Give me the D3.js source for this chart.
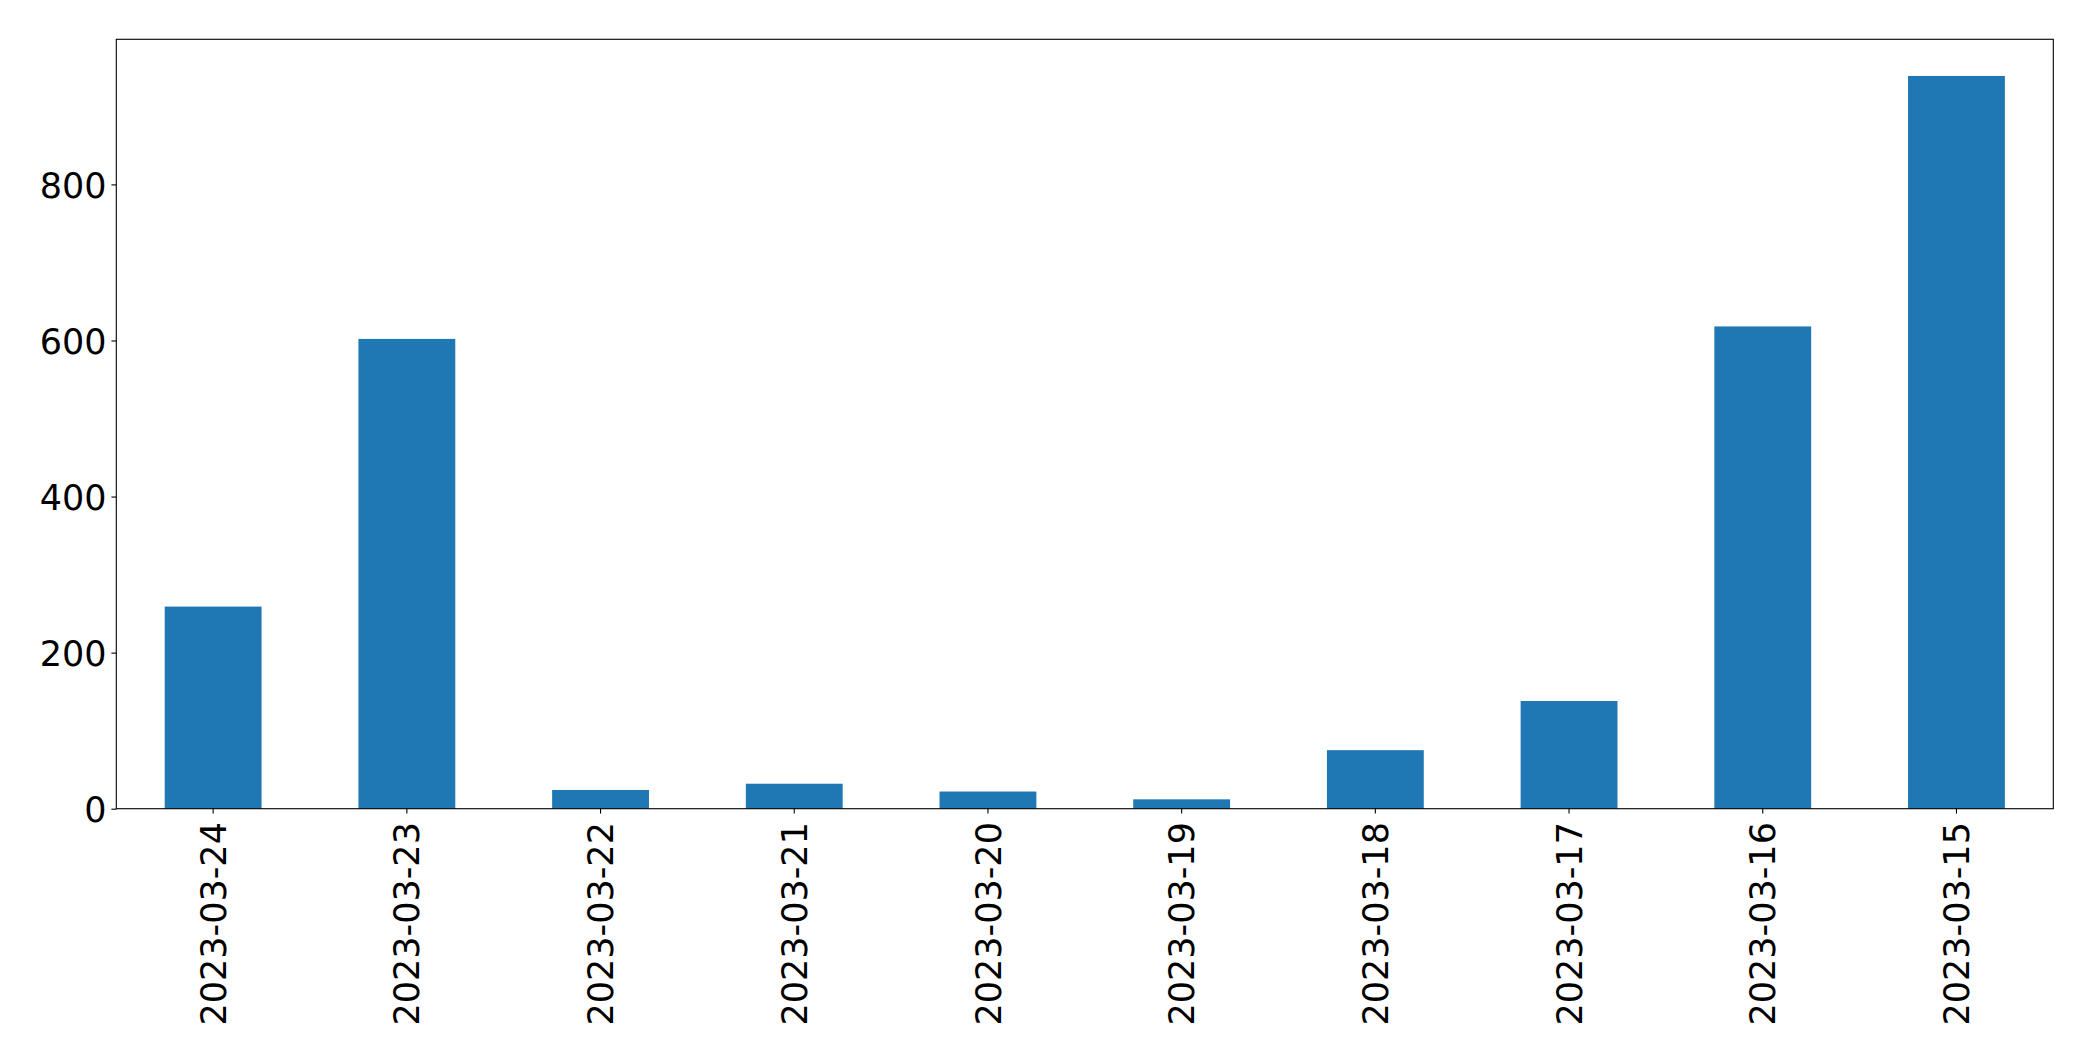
<!DOCTYPE html>
<html>
<head>
<meta charset="utf-8">
<script src="https://cdn.jsdelivr.net/npm/d3@7"></script>
<style>
  body { margin: 0; background: #fff; }
  svg { display: block; }
  text { font-family: "DejaVu Sans", sans-serif; fill: #000; }
</style>
</head>
<body>
<svg id="chart" width="2093" height="1061"></svg>
<script>
// data
var dates = ["2023-03-24", "2023-03-23", "2023-03-22", "2023-03-21", "2023-03-20",
             "2023-03-19", "2023-03-18", "2023-03-17", "2023-03-16", "2023-03-15"]
var counts = [259, 602, 24, 32, 22, 12, 75, 138, 618, 939]
var yTicks = [0, 200, 400, 600, 800]

var screen = {width: 2093, height: 1061}
var margin = {left: 116.3, right: 39.7, top: 39.3, bottom: 252.3}
var graph = {
  width: screen.width - margin.left - margin.right,
  height: screen.height - margin.top - margin.bottom
}
var fontSize = 35
var tickLen = 4.9

var svg = d3.select("#chart")
var target = svg.append("g")
  .attr("transform", "translate(" + margin.left + "," + margin.top + ")")

var xScale = d3.scaleBand()
  .domain(dates)
  .range([0, graph.width])
  .paddingInner(0.5)
  .paddingOuter(0.25)

var yScale = d3.scaleLinear()
  .domain([0, d3.max(counts) * 1.05])
  .range([graph.height, 0])

// bars
target.selectAll("rect.bar")
  .data(counts)
  .enter()
  .append("rect")
    .attr("class", "bar")
    .attr("x", function(d, i) { return xScale(dates[i]) })
    .attr("y", function(d) { return yScale(d) })
    .attr("width", xScale.bandwidth())
    .attr("height", function(d) { return graph.height - yScale(d) })
    .style("fill", "#1f77b4")

// axes
var xAxis = d3.axisBottom(xScale).tickSize(tickLen).tickSizeOuter(0)
var gx = target.append("g")
  .attr("transform", "translate(0," + graph.height + ")")
  .call(xAxis)
gx.select(".domain").remove()
gx.selectAll(".tick line").attr("stroke", "#000").attr("stroke-width", 1.1)
gx.selectAll(".tick text")
  .attr("transform", "rotate(-90)")
  .attr("x", -(tickLen + 8.5))
  .attr("y", 0)
  .attr("dy", "0.36em")
  .attr("text-anchor", "end")
  .style("font-size", fontSize + "px")
  .style("font-family", "DejaVu Sans")

var yAxis = d3.axisLeft(yScale).tickValues(yTicks).tickSize(tickLen).tickSizeOuter(0)
var gy = target.append("g").call(yAxis)
gy.select(".domain").remove()
gy.selectAll(".tick line").attr("stroke", "#000").attr("stroke-width", 1.1)
gy.selectAll(".tick text")
  .attr("x", -(tickLen + 4.9))
  .attr("dy", "0.36em")
  .style("font-size", fontSize + "px")
  .style("font-family", "DejaVu Sans")

// frame
target.append("rect")
  .attr("x", 0)
  .attr("y", 0)
  .attr("width", graph.width)
  .attr("height", graph.height)
  .style("fill", "none")
  .style("stroke", "#000")
  .style("stroke-width", 1.1)
</script>
</body>
</html>
